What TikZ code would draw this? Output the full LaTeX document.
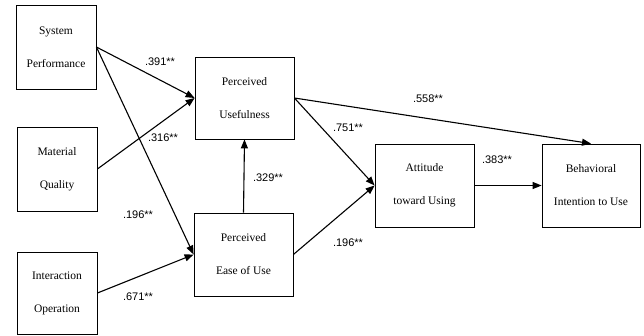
\documentclass[tikz,border=0pt]{standalone}
\usepackage{fontspec}
\setmainfont{Liberation Serif}
\newfontfamily\lblfont{Liberation Sans}
\usetikzlibrary{arrows.meta}

\begin{document}
\begin{tikzpicture}[x=1pt,y=-1pt,
    box/.style={draw, thick, align=center, font=\fontsize{11.5}{33}\selectfont,
                minimum width=99pt, minimum height=83pt, inner sep=2pt},
    small/.style={box, minimum width=80pt, minimum height=84pt},
    lbl/.style={font=\lblfont\fontsize{11}{12}\selectfont, inner sep=1pt},
    path/.style={-{Triangle[length=9pt,width=7pt]}, line width=1.1pt}
  ]
    \useasboundingbox (0,0) rectangle (644,335);
    % exogenous constructs
    \node[small] (sp) at (56,47) {System\\Performance};
    \node[small] (mq) at (57,169) {Material\\Quality};
    \node[small, minimum height=82pt] (io) at (57,293) {Interaction\\Operation};
    % TAM constructs
    \node[box, minimum height=82pt] (pu) at (244.5,98) {Perceived\\Usefulness};
    \node[box] (pe) at (243.5,254.5) {Perceived\\Ease of Use};
    \node[box] (at) at (424.5,185.5) {Attitude\\toward Using};
    \node[box, minimum width=98pt] (bi) at (591,185.5) {Behavioral\\Intention to Use};

    \draw[path] (sp.east) -- (pu.west);
    \draw[path] (mq.east) -- (pu.west);
    \draw[path] (sp.east) -- (pe.west);
    \draw[path] (io.east) -- (pe.west);
    \draw[path] (pe.north) -- (pu.south);
    \draw[path] (pu.east) -- (at.west);
    \draw[path] (pe.east) -- (at.west);
    \draw[path] (pu.east) -- (bi.north);
    \draw[path] (at.east) -- (bi.west);

    % path coefficients
    \node[lbl] (c391) at (160,62) {.391**};
    \node[lbl] (c316) at (163,138) {.316**};
    \node[lbl] (c196a) at (138,215) {.196**};
    \node[lbl] (c671) at (138,297) {.671**};
    \node[lbl] (c329) at (268,178) {.329**};
    \node[lbl] (c751) at (348,128) {.751**};
    \node[lbl] (c196b) at (348,243) {.196**};
    \node[lbl] (c558) at (428,99) {.558**};
    \node[lbl] (c383) at (497,160) {.383**};
  \end{tikzpicture}
\end{document}
